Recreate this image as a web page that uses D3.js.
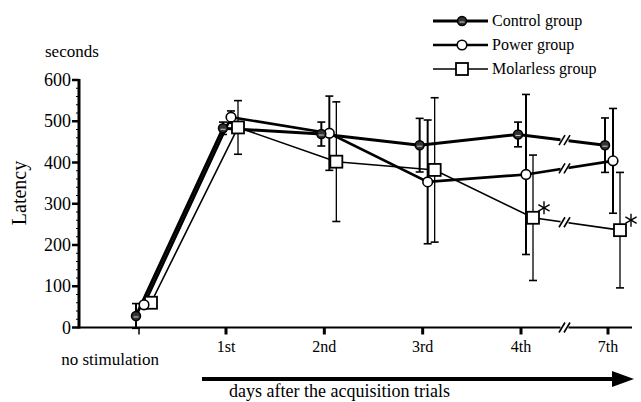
<!DOCTYPE html>
<html><head><meta charset="utf-8">
<script src="https://cdn.jsdelivr.net/npm/d3@7"></script>
<style>body{margin:0;background:#fff}svg{display:block}text{font-family:"Liberation Serif","Times New Roman",serif}</style>
</head><body><svg id="c" width="641" height="402" font-family="Liberation Serif"></svg>
<script>
const categories = ["no stimulation","1st","2nd","3rd","4th","7th"];
const controlMean = [28, 483, 469, 442, 468, 442];
const controlErr  = [30, 15, 29, 65, 30, 66];
const powerMean   = [55, 510, 471, 353, 371, 404];
const powerErr    = [0, 15, 90, 150, 194, 127];
const molarMean   = [60, 485, 402, 382, 266, 236];
const molarErr    = [0, 65, 145, 175, 152, 140];
const yTicks = [0,100,200,300,400,500,600];
const sigIdx = [4,5];

const svg = d3.select("#c");
const FF = "Liberation Serif";
const x0 = 139, x1 = 608, gap = 87;
const x = d3.scaleLinear().domain([0,1,4,5]).range([x0, x0+gap, x1-gap, x1]);
const y = d3.scaleLinear().domain([0,600]).range([327.5, 80]);
const axL = 79, axR = 632;

const series = [
  {name:"Control group", mean:controlMean, err:controlErr, off:-3, lw:3, ew:2, m:"fc"},
  {name:"Power group", mean:powerMean, err:powerErr, off:5, lw:2.6, ew:2, m:"oc"},
  {name:"Molarless group", mean:molarMean, err:molarErr, off:12, lw:1.6, ew:1.3, m:"sq"}
];
function txt(g){ return g.append("text").attr("font-family",FF); }

// axes
svg.append("line").attr("x1",axL).attr("x2",axR).attr("y1",y(0)).attr("y2",y(0)).attr("stroke","#000").attr("stroke-width",2.2);
svg.append("line").attr("x1",axL).attr("x2",axL).attr("y1",y(0)+1).attr("y2",y(600)-1).attr("stroke","#000").attr("stroke-width",3);
const ya = svg.append("g");
yTicks.forEach(t=>{
  ya.append("line").attr("x1",axL-7).attr("x2",axL).attr("y1",y(t)).attr("y2",y(t)).attr("stroke","#000").attr("stroke-width",2.5);
  txt(ya).attr("x",axL-8).attr("y",y(t)+6).attr("text-anchor","end").attr("font-size",18).text(t);
});
d3.range(0,601,20).filter(v=>v%100).forEach(t=>{
  ya.append("line").attr("x1",axL-3).attr("x2",axL).attr("y1",y(t)).attr("y2",y(t)).attr("stroke","#000").attr("stroke-width",1);
});
categories.forEach((c,i)=>{
  svg.append("line").attr("x1",x(i)).attr("x2",x(i)).attr("y1",y(0)).attr("y2",y(0)+7).attr("stroke","#000").attr("stroke-width",i===0?1.5:3);
  if(i>0) txt(svg).attr("x",x(i)).attr("y",y(0)+24).attr("text-anchor","middle").attr("font-size",16).text(c);
});
txt(svg).attr("x",110).attr("y",y(0)+37).attr("text-anchor","middle").attr("font-size",17).text(categories[0]);
// axis break
const bx = x(4.5);
svg.append("rect").attr("x",bx-4).attr("y",y(0)-3).attr("width",8).attr("height",6).attr("fill","#fff");
[-2.5,2.5].forEach(d=>svg.append("line").attr("x1",bx+d-3).attr("x2",bx+d+3).attr("y1",y(0)+5).attr("y2",y(0)-5).attr("stroke","#000").attr("stroke-width",1.6));

txt(svg).attr("x",45).attr("y",57).attr("font-size",17).text("seconds");
txt(svg).attr("transform","translate(26,193) rotate(-90)").attr("text-anchor","middle").attr("font-size",20).text("Latency");

// arrow
svg.append("line").attr("x1",202).attr("x2",615).attr("y1",379).attr("y2",379).attr("stroke","#000").attr("stroke-width",4);
svg.append("path").attr("d",`M612,371L634,379L612,387Z`).attr("fill","#000");
txt(svg).attr("x",229).attr("y",397).attr("font-size",18).text("days after the acquisition trials");

// error bars
series.forEach(s=>{
  const g = svg.append("g");
  s.mean.forEach((m,i)=>{
    const e = s.err[i]; if(!e) return;
    const cx = x(i)+s.off;
    g.append("line").attr("x1",cx).attr("x2",cx).attr("y1",y(m+e)).attr("y2",y(m-e)).attr("stroke","#000").attr("stroke-width",s.ew);
    [m+e,m-e].forEach(v=>g.append("line").attr("x1",cx-4).attr("x2",cx+4).attr("y1",y(v)).attr("y2",y(v)).attr("stroke","#000").attr("stroke-width",1.6));
  });
});
// lines
const line = d3.line();
series.forEach(s=>{
  const pts = s.mean.map((m,i)=>[x(i)+s.off, y(m)]);
  svg.append("path").attr("d",line(pts)).attr("fill","none").attr("stroke","#000").attr("stroke-width",s.lw);
  const a = pts[4], b = pts[5];
  const t = (bx - a[0])/(b[0]-a[0]);
  const by = a[1] + t*(b[1]-a[1]);
  svg.append("rect").attr("x",bx-4).attr("y",by-4).attr("width",8).attr("height",8).attr("fill","#fff");
  [-2.5,2.5].forEach(d=>svg.append("line").attr("x1",bx+d-3).attr("x2",bx+d+3).attr("y1",by+5).attr("y2",by-5).attr("stroke","#000").attr("stroke-width",1.6));
});
function marker(g, type, cx, cy){
  if(type==="fc"){
    g.append("circle").attr("cx",cx).attr("cy",cy).attr("r",4.5).attr("fill","#333").attr("stroke","#000").attr("stroke-width",1.5);
    g.append("path").attr("d",`M${cx-2.5},${cy+1}h5`).attr("stroke","#ccc").attr("stroke-width",1);
  } else if(type==="oc"){
    g.append("circle").attr("cx",cx).attr("cy",cy).attr("r",4.8).attr("fill","#fff").attr("stroke","#000").attr("stroke-width",1.6);
  } else {
    g.append("rect").attr("x",cx-6).attr("y",cy-6).attr("width",12).attr("height",12).attr("fill","#fff").attr("stroke","#000").attr("stroke-width",1.8);
  }
}
series.slice().reverse().forEach(s=>{
  const g = svg.append("g");
  s.mean.forEach((m,i)=>marker(g, s.m, x(i)+s.off, y(m)));
});
// significance asterisks
sigIdx.forEach(i=>{
  const cx = x(i)+series[2].off+11, cy = y(molarMean[i])-10;
  const g = svg.append("g");
  [90,30,-30].forEach(a=>{
    const r = a*Math.PI/180, dx = 6.5*Math.cos(r), dy = 6.5*Math.sin(r);
    g.append("line").attr("x1",cx-dx).attr("x2",cx+dx).attr("y1",cy-dy).attr("y2",cy+dy).attr("stroke","#000").attr("stroke-width",1.4);
  });
});
// legend
const ly = [21,45,69];
series.forEach((s,k)=>{
  svg.append("line").attr("x1",433).attr("x2",488).attr("y1",ly[k]).attr("y2",ly[k]).attr("stroke","#000").attr("stroke-width",s.lw);
  marker(svg, s.m, 462, ly[k]);
  txt(svg).attr("x",492).attr("y",ly[k]+5).attr("font-size",16).text(s.name);
});
</script></body></html>
